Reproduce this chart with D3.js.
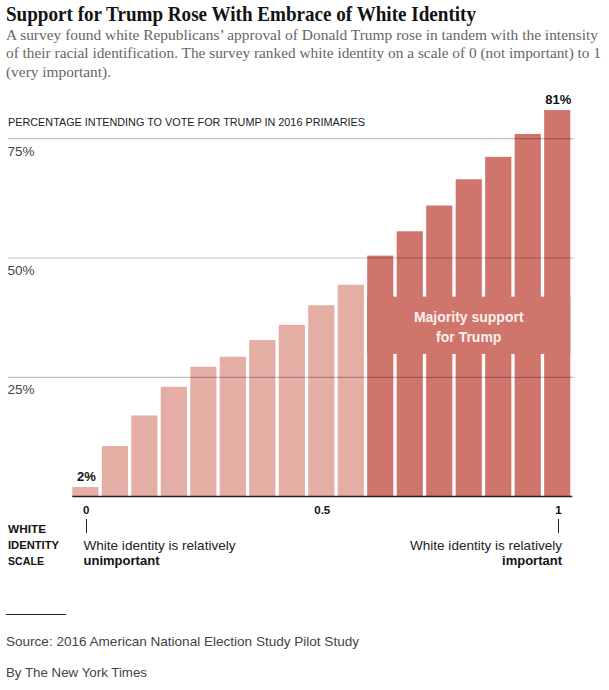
<!DOCTYPE html>
<html><head><meta charset="utf-8">
<script src="https://cdn.jsdelivr.net/npm/d3@7"></script>
<style>body{margin:0;background:#fff}svg{display:block}</style>
</head><body>
<script>
// Data
const identityLevels = d3.range(17).map(i => i / 16); // white identity scale 0..1
const trumpSupport = [2, 10.6, 17, 23, 27.2, 29.3, 32.8, 36, 40.1, 44.4, 50.5, 55.6, 61, 66.5, 71.2, 76, 81];
const yTicks = [25, 50, 75];
const xTicks = [0, 0.5, 1];
const xTickMarks = [0, 1];

const W = 609, H = 690;
const svg = d3.select("body").append("svg").attr("width", W).attr("height", H);
const sans = "'Liberation Sans', Arial, sans-serif";
const serif = "'Liberation Serif', 'Times New Roman', serif";

// Title + subtitle
svg.append("text").attr("x", 6).attr("y", 20.5)
  .attr("font-family", serif).attr("font-weight", "bold").attr("font-size", 21)
  .attr("fill", "#121212").attr("textLength", 470).attr("lengthAdjust", "spacingAndGlyphs")
  .text("Support for Trump Rose With Embrace of White Identity");
const sub = [
  ["A survey found white Republicans’ approval of Donald Trump rose in tandem with the intensity", 592],
  ["of their racial identification. The survey ranked white identity on a scale of 0 (not important) to 1", 595],
  ["(very important).", 105]
];
sub.forEach((d, i) => {
  svg.append("text").attr("x", 6).attr("y", 39.5 + i * 18.5)
    .attr("font-family", serif).attr("font-size", 15).attr("fill", "#666")
    .attr("textLength", d[1]).attr("lengthAdjust", "spacingAndGlyphs").text(d[0]);
});

// Scales
const base = 496.6;
const y = d3.scaleLinear().domain([0, 25]).range([base, base - 119.3]);
const x = d3.scaleBand().domain(d3.range(trumpSupport.length)).range([72.3, 570.3]).paddingInner(0.113).paddingOuter(0);
const xs = d3.scaleLinear().domain([0, 1]).range([x(0) + x.bandwidth() / 2 + 0.7, x(16) + x.bandwidth() / 2 + 1.2]);

const light = "#e4aea5", dark = "#cf756c";

// y title
svg.append("text").attr("x", 8).attr("y", 126)
  .attr("font-family", sans).attr("font-size", 10.5).attr("fill", "#222")
  .attr("textLength", 357).attr("lengthAdjust", "spacingAndGlyphs")
  .text("PERCENTAGE INTENDING TO VOTE FOR TRUMP IN 2016 PRIMARIES");

// bars
svg.append("g").selectAll("rect").data(trumpSupport).join("rect")
  .attr("x", (d, i) => x(i)).attr("width", x.bandwidth())
  .attr("y", d => y(d)).attr("height", d => base - y(d))
  .attr("fill", d => d > 50 ? dark : light);

// majority block
const firstMaj = trumpSupport.findIndex(d => d > 50);
svg.append("rect").attr("x", x(firstMaj)).attr("width", x(16) + x.bandwidth() - x(firstMaj))
  .attr("y", y(41.9)).attr("height", y(29.9) - y(41.9)).attr("fill", dark);
const cx = (x(firstMaj) + x(16) + x.bandwidth()) / 2;
["Majority support", "for Trump"].forEach((t, i) => {
  svg.append("text").attr("x", cx).attr("y", 321.5 + i * 20).attr("text-anchor", "middle")
    .attr("font-family", sans).attr("font-weight", "bold").attr("font-size", 14)
    .attr("fill", "#fcf0ee").text(t);
});

// gridlines (on top)
svg.append("g").selectAll("line").data(yTicks).join("line")
  .attr("x1", 8).attr("x2", 574).attr("y1", d => y(d)).attr("y2", d => y(d))
  .attr("stroke", "#000").attr("stroke-opacity", 0.25).attr("stroke-width", 1.2);
svg.append("g").selectAll("text").data(yTicks).join("text")
  .attr("x", 7.5).attr("y", d => y(d) + 17)
  .attr("font-family", sans).attr("font-size", 13.5).attr("fill", "#444")
  .text(d => d + "%");

// value labels
[[0, "2%"], [16, "81%"]].forEach(([i, t]) => {
  svg.append("text").attr("x", x(i) + x.bandwidth() / 2 + 1).attr("y", y(trumpSupport[i]) - 6.5)
    .attr("text-anchor", "middle").attr("font-family", sans).attr("font-weight", "bold")
    .attr("font-size", 13).attr("fill", "#121212").text(t);
});

// baseline
svg.append("line").attr("x1", 72.3).attr("x2", 572.3).attr("y1", base).attr("y2", base)
  .attr("stroke", "#222").attr("stroke-width", 1.5);

// x ticks
svg.append("g").selectAll("text").data(xTicks).join("text")
  .attr("x", d => xs(d)).attr("y", 513.5).attr("text-anchor", "middle")
  .attr("font-family", sans).attr("font-weight", "bold").attr("font-size", 11.5).attr("fill", "#121212")
  .text(d => d);
svg.append("g").selectAll("line").data(xTickMarks).join("line")
  .attr("x1", d => Math.round(xs(d)) + 0.5).attr("x2", d => Math.round(xs(d)) + 0.5)
  .attr("y1", 519).attr("y2", 533).attr("stroke", "#222").attr("stroke-width", 1);

// scale label
[["WHITE", 38], ["IDENTITY", 51], ["SCALE", 36]].forEach(([t, w], i) => {
  svg.append("text").attr("x", 8).attr("y", 533 + i * 15.8)
    .attr("font-family", sans).attr("font-weight", "bold").attr("font-size", 10.5).attr("fill", "#121212")
    .attr("textLength", w).attr("lengthAdjust", "spacingAndGlyphs").text(t);
});
svg.append("text").attr("x", 83.5).attr("y", 549.5).attr("font-family", sans).attr("font-size", 13.5)
  .attr("fill", "#222").attr("textLength", 152).attr("lengthAdjust", "spacingAndGlyphs").text("White identity is relatively");
svg.append("text").attr("x", 83.5).attr("y", 565.3).attr("font-family", sans).attr("font-weight", "bold")
  .attr("font-size", 13).attr("fill", "#121212").attr("textLength", 76).attr("lengthAdjust", "spacingAndGlyphs").text("unimportant");
svg.append("text").attr("x", 410).attr("y", 549.5).attr("font-family", sans)
  .attr("font-size", 13.5).attr("fill", "#222").attr("textLength", 152).attr("lengthAdjust", "spacingAndGlyphs").text("White identity is relatively");
svg.append("text").attr("x", 562).attr("y", 565.3).attr("text-anchor", "end").attr("font-family", sans)
  .attr("font-weight", "bold").attr("font-size", 13).attr("fill", "#121212").text("important");

// footer
svg.append("line").attr("x1", 6).attr("x2", 66).attr("y1", 614.5).attr("y2", 614.5)
  .attr("stroke", "#222").attr("stroke-width", 1);
svg.append("text").attr("x", 6).attr("y", 646).attr("font-family", sans).attr("font-size", 13)
  .attr("fill", "#444").attr("textLength", 353).attr("lengthAdjust", "spacingAndGlyphs")
  .text("Source: 2016 American National Election Study Pilot Study");
svg.append("text").attr("x", 6).attr("y", 677).attr("font-family", sans).attr("font-size", 13)
  .attr("fill", "#444").attr("textLength", 141).attr("lengthAdjust", "spacingAndGlyphs")
  .text("By The New York Times");
</script>
</body></html>
